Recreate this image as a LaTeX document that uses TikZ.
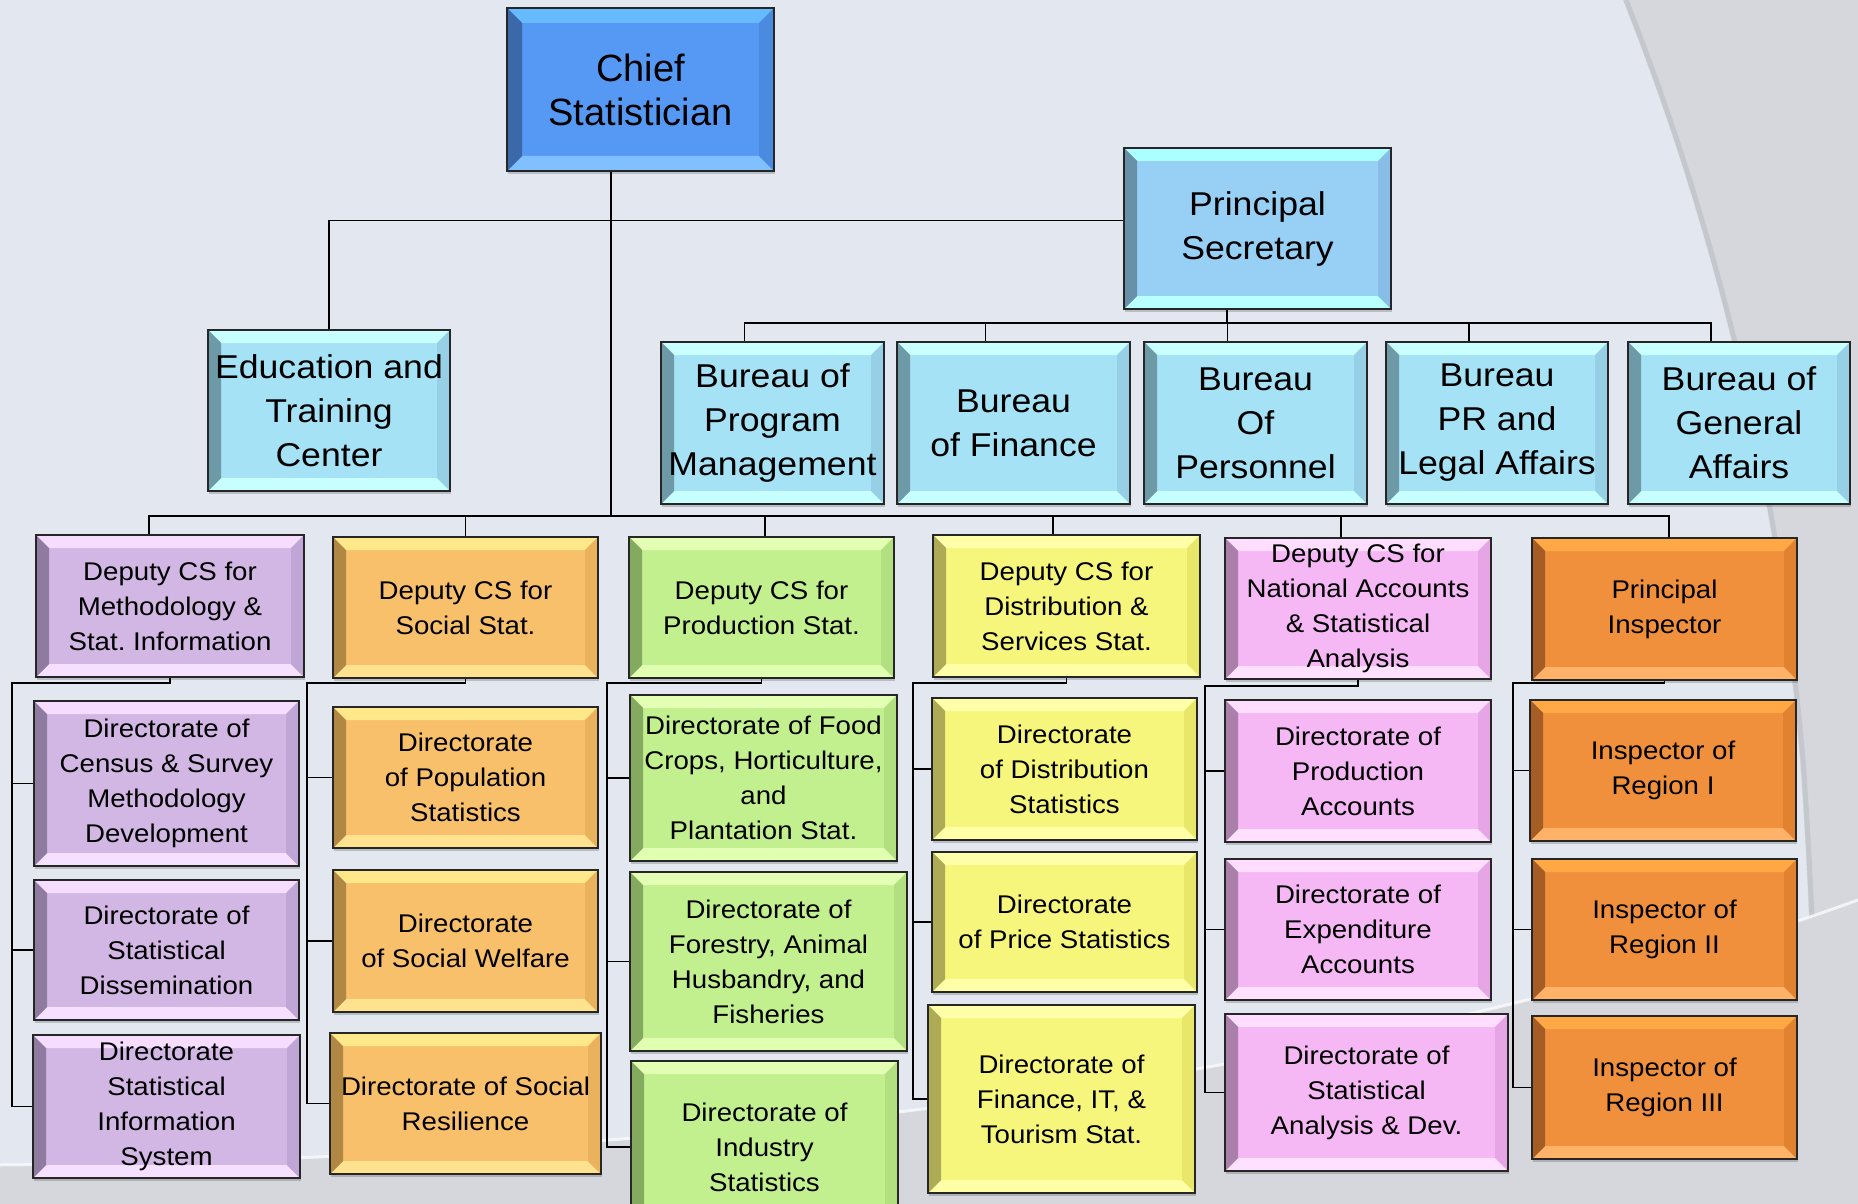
\documentclass[tikz,border=0pt]{standalone}
\usepackage{fontspec}
\newfontfamily\boxfont[FakeStretch=1.08]{Liberation Sans}
\newfontfamily\headfont{Liberation Sans}
\frenchspacing

% page background
\definecolor{bgbase}{HTML}{E2E7F0}
\definecolor{bggray}{HTML}{D5D7DC}
\definecolor{bgedge}{HTML}{C4C7CC}

% palettes: M main face, T top bevel, B bottom bevel, L left bevel, R right bevel
\definecolor{chfM}{HTML}{5599F5}\definecolor{chfT}{HTML}{66BBFF}\definecolor{chfB}{HTML}{80C0FF}\definecolor{chfL}{HTML}{3A68A8}\definecolor{chfR}{HTML}{4A8BE0}
\definecolor{psM}{HTML}{98CFF5}\definecolor{psT}{HTML}{ACFFFF}\definecolor{psB}{HTML}{B8FFFF}\definecolor{psL}{HTML}{6890A8}\definecolor{psR}{HTML}{88BDE8}
\definecolor{burM}{HTML}{A6E2F5}\definecolor{burT}{HTML}{C8FFFF}\definecolor{burB}{HTML}{C8FFFF}\definecolor{burL}{HTML}{6E9AA8}\definecolor{burR}{HTML}{97D0E6}
\definecolor{purM}{HTML}{D2B7E5}\definecolor{purT}{HTML}{F6DDFF}\definecolor{purB}{HTML}{F6E0FF}\definecolor{purL}{HTML}{8F7BA0}\definecolor{purR}{HTML}{BFA6D6}
\definecolor{orgM}{HTML}{F8C06B}\definecolor{orgT}{HTML}{FFE88A}\definecolor{orgB}{HTML}{FFE290}\definecolor{orgL}{HTML}{B08844}\definecolor{orgR}{HTML}{EBB25E}
\definecolor{grnM}{HTML}{C3F08F}\definecolor{grnT}{HTML}{E3FFB3}\definecolor{grnB}{HTML}{E0FFB0}\definecolor{grnL}{HTML}{84AA60}\definecolor{grnR}{HTML}{B2E080}
\definecolor{yelM}{HTML}{F7F67C}\definecolor{yelT}{HTML}{FFFFAA}\definecolor{yelB}{HTML}{FFFFA8}\definecolor{yelL}{HTML}{ADAB55}\definecolor{yelR}{HTML}{E8E76A}
\definecolor{pnkM}{HTML}{F5B8F5}\definecolor{pnkT}{HTML}{FFDDFF}\definecolor{pnkB}{HTML}{FFE0FF}\definecolor{pnkL}{HTML}{AA80AA}\definecolor{pnkR}{HTML}{E6A6E6}
\definecolor{dorM}{HTML}{F0903D}\definecolor{dorT}{HTML}{FFA845}\definecolor{dorB}{HTML}{FFB268}\definecolor{dorL}{HTML}{A55D25}\definecolor{dorR}{HTML}{E0822F}

\newlength\bev
\setlength\bev{13pt}

\tikzset{
  orgbox/.style={draw=black!85, line width=2pt, fill=#1M, inner sep=0pt, align=center,
    path picture={
      \fill[#1T] (path picture bounding box.north west) -- (path picture bounding box.north east)
        -- ([shift={(-\bev,-\bev)}]path picture bounding box.north east)
        -- ([shift={(\bev,-\bev)}]path picture bounding box.north west) -- cycle;
      \fill[#1B] (path picture bounding box.south west) -- (path picture bounding box.south east)
        -- ([shift={(-\bev,\bev)}]path picture bounding box.south east)
        -- ([shift={(\bev,\bev)}]path picture bounding box.south west) -- cycle;
      \fill[#1L] (path picture bounding box.north west)
        -- ([shift={(\bev,-\bev)}]path picture bounding box.north west)
        -- ([shift={(\bev,\bev)}]path picture bounding box.south west)
        -- (path picture bounding box.south west) -- cycle;
      \fill[#1R] (path picture bounding box.north east)
        -- ([shift={(-\bev,-\bev)}]path picture bounding box.north east)
        -- ([shift={(-\bev,\bev)}]path picture bounding box.south east)
        -- (path picture bounding box.south east) -- cycle;
    }},
  link/.style={line width=1.8pt, black},
  boxshadow/.style={fill=black, opacity=0.18},
  headtext/.style={font=\headfont\fontsize{38}{44}\selectfont},
  toptext/.style={font=\boxfont\fontsize{33}{44}\selectfont},
  rowtext/.style={font=\boxfont\fontsize{25.6}{35}\selectfont},
}

% \orgnode{name}{palette}{x1}{y1}{x2}{y2}{text style}{text}
\newcommand{\orgnode}[8]{%
  \fill[boxshadow] ({#3+2},{#4+4}) rectangle ({#5+2},{#6+4});
  \node[orgbox=#2, #7, minimum width={#5pt-#3pt}, minimum height={#6pt-#4pt},
        anchor=north west] (#1) at (#3,#4) {#8};}

\begin{document}
\begin{tikzpicture}[x=1pt,y=-1pt]
\useasboundingbox (0,0) rectangle (1858,1204);
\clip (0,0) rectangle (1858,1204);

% background with soft arcs
\fill[bgbase] (0,0) rectangle (1858,1204);
\fill[bggray] (1623,0) .. controls (1710,220) and (1775,470) .. (1800,760)
  .. controls (1810,900) and (1815,1050) .. (1815,1204) -- (1858,1204) -- (1858,0) -- cycle;
\draw[bgedge, line width=5pt] (1626,0) .. controls (1713,220) and (1778,470) .. (1803,760)
  .. controls (1813,900) and (1818,1050) .. (1818,1204);
\fill[bggray] (0,1165) .. controls (500,1160) and (1250,1120) .. (1858,900) -- (1858,1204) -- (0,1204) -- cycle;
\draw[white, line width=3pt, opacity=0.7] (0,1165) .. controls (500,1160) and (1250,1120) .. (1858,900);

% top level
\setlength\bev{15pt}
\orgnode{chief}{chf}{506}{7}{773}{170}{headtext}{Chief\\Statistician}
\setlength\bev{13pt}
\orgnode{ps}{ps}{1123}{147}{1390}{308}{toptext}{Principal\\Secretary}
\orgnode{edu}{bur}{207}{329}{449}{490}{toptext}{Education and\\Training\\Center}
\orgnode{b1}{bur}{660}{341}{883}{503}{toptext}{Bureau of\\Program\\Management}
\orgnode{b2}{bur}{896}{341}{1129}{503}{toptext}{Bureau\\of Finance}
\orgnode{b3}{bur}{1143}{341}{1366}{503}{toptext}{Bureau\\Of\\Personnel}
\orgnode{b4}{bur}{1385}{341}{1607}{503}{toptext}{Bureau\\PR and\\Legal Affairs}
\orgnode{b5}{bur}{1627}{341}{1849}{503}{toptext}{Bureau of\\General\\Affairs}

% deputies
\orgnode{d1}{pur}{35}{534}{303}{676}{rowtext}{Deputy CS for\\Methodology \&\\Stat. Information}
\orgnode{d2}{org}{332}{536}{597}{677}{rowtext}{Deputy CS for\\Social Stat.}
\orgnode{d3}{grn}{628}{536}{893}{677}{rowtext}{Deputy CS for\\Production Stat.}
\orgnode{d4}{yel}{932}{534}{1199}{676}{rowtext}{Deputy CS for\\Distribution \&\\Services Stat.}
\orgnode{d5}{pnk}{1224}{537}{1490}{678}{rowtext}{Deputy CS for\\National Accounts\\\& Statistical\\Analysis}
\orgnode{d6}{dor}{1531}{537}{1796}{679}{rowtext}{Principal\\Inspector}

% directorates
\orgnode{c11}{pur}{33}{700}{298}{865}{rowtext}{Directorate of\\Census \& Survey\\Methodology\\Development}
\orgnode{c12}{pur}{33}{879}{298}{1019}{rowtext}{Directorate of\\Statistical\\Dissemination}
\orgnode{c13}{pur}{32}{1034}{299}{1177}{rowtext}{Directorate\\Statistical\\Information\\System}
\orgnode{c21}{org}{332}{706}{597}{847}{rowtext}{Directorate\\of Population\\Statistics}
\orgnode{c22}{org}{332}{869}{597}{1011}{rowtext}{Directorate\\of Social Welfare}
\orgnode{c23}{org}{329}{1032}{600}{1173}{rowtext}{Directorate of Social\\Resilience}
\orgnode{c31}{grn}{629}{694}{896}{860}{rowtext}{Directorate of Food\\Crops, Horticulture,\\and\\Plantation Stat.}
\orgnode{c32}{grn}{629}{871}{906}{1050}{rowtext}{Directorate of\\Forestry, Animal\\Husbandry, and\\Fisheries}
\orgnode{c33}{grn}{630}{1060}{897}{1232}{rowtext}{Directorate of\\Industry\\Statistics}
\orgnode{c41}{yel}{931}{697}{1196}{839}{rowtext}{Directorate\\of Distribution\\Statistics}
\orgnode{c42}{yel}{931}{851}{1196}{991}{rowtext}{Directorate\\of Price Statistics}
\orgnode{c43}{yel}{927}{1004}{1194}{1192}{rowtext}{Directorate of\\Finance, IT, \&\\Tourism Stat.}
\orgnode{c51}{pnk}{1224}{699}{1490}{841}{rowtext}{Directorate of\\Production\\Accounts}
\orgnode{c52}{pnk}{1224}{858}{1490}{999}{rowtext}{Directorate of\\Expenditure\\Accounts}
\orgnode{c53}{pnk}{1224}{1013}{1507}{1170}{rowtext}{Directorate of\\Statistical\\Analysis \& Dev.}
\orgnode{c61}{dor}{1529}{699}{1795}{840}{rowtext}{Inspector of\\Region I}
\orgnode{c62}{dor}{1531}{858}{1796}{999}{rowtext}{Inspector of\\Region II}
\orgnode{c63}{dor}{1531}{1015}{1796}{1158}{rowtext}{Inspector of\\Region III}

% connectors: chief and principal secretary
\coordinate (trunk) at (611,516);
\coordinate (pbus) at (1227,323);
\draw[link] (chief.south -| trunk) -- (trunk);
\draw[link] (edu.north) |- ([yshift=8pt]ps.west);
\draw[link] (ps.south -| pbus) -- (pbus);
\draw[link] ([xshift=-28pt]b1.north) -- ([xshift=-28pt]b1.north |- pbus) -- ([xshift=-28pt]b5.north |- pbus) -- ([xshift=-28pt]b5.north);
\foreach \b in {b2,b3,b4}
  \draw[link] ([xshift=-28pt]\b.north) -- ([xshift=-28pt]\b.north |- pbus);

% connectors: deputies bus
\draw[link] ([xshift=-21pt]d1.north) -- ([xshift=-21pt]d1.north |- trunk) -- ([xshift=4.5pt]d6.north |- trunk) -- ([xshift=4.5pt]d6.north);
\draw[link] (d2.north) -- (d2.north |- trunk);
\draw[link] ([xshift=3.5pt]d3.north) -- ([xshift=3.5pt]d3.north |- trunk);
\draw[link] ([xshift=-13.5pt]d4.north) -- ([xshift=-13.5pt]d4.north |- trunk);
\draw[link] ([xshift=-17pt]d5.north) -- ([xshift=-17pt]d5.north |- trunk);

% connectors: directorates under each deputy
\coordinate (s1) at (12,683);
\coordinate (s2) at (307,683);
\coordinate (s3) at (607,683);
\coordinate (s4) at (913,683);
\coordinate (s5) at (1205,686);
\coordinate (s6) at (1513,683);
\foreach \k in {1,...,6}{
  \draw[link] (d\k.south) |- (s\k) -- (s\k |- c\k3.west) -- (c\k3.west);
  \draw[link] (s\k |- c\k1.west) -- (c\k1.west);
  \draw[link] (s\k |- c\k2.west) -- (c\k2.west);
}
\end{tikzpicture}
\end{document}
